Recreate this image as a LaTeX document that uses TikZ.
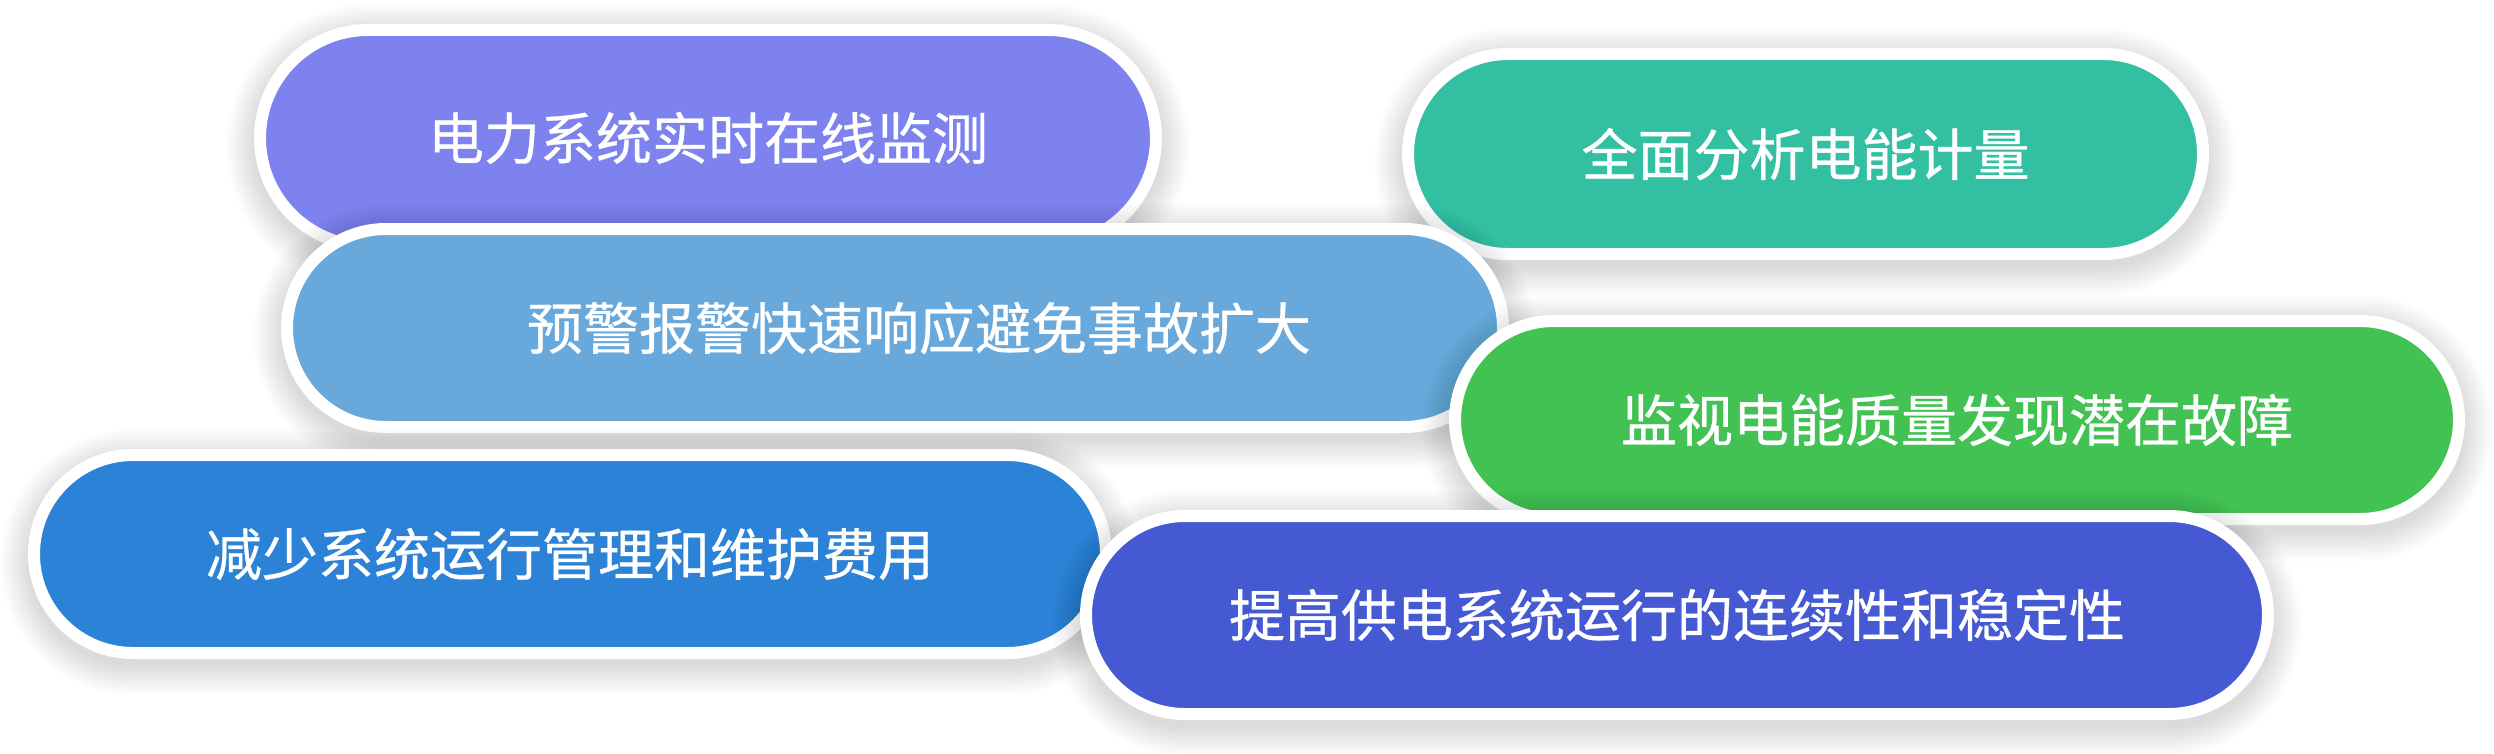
\documentclass[tikz,border=0pt]{standalone}
\usepackage{fontspec}
\newfontfamily\cjkfont[FakeBold=0.6]{Noto Sans CJK SC}
\usetikzlibrary{shapes.misc}
\definecolor{cA}{HTML}{7E82EE}
\definecolor{cB}{HTML}{33BFA1}
\definecolor{cC}{HTML}{68A8DB}
\definecolor{cD}{HTML}{42C252}
\definecolor{cE}{HTML}{2B82D6}
\definecolor{cF}{HTML}{4559D2}
\tikzset{
  pill/.style={rounded rectangle, draw=white, line width=12pt, text=white,
    font=\cjkfont\fontsize{56pt}{60pt}\selectfont, inner sep=0pt},
  pshadow/.style={rounded rectangle, fill=black, fill opacity=0.01, draw=none, inner sep=0pt}
}
\newcommand\mkpill[7]{%
  \foreach \k in {0,...,11}{%
    \node[pshadow, minimum width={#4+24+5*\k}, minimum height={#5+24+5*\k}] (#1s\k) at (#2,{-(#3)-8}) {};
  }
  \node[pill, fill=#6, minimum width={#4+12}, minimum height={#5+12}] (#1) at (#2,-#3) {#7};
}
\begin{document}
\begin{tikzpicture}[x=1pt,y=1pt]
\fill[white] (0,0) rectangle (2494,-754);
\useasboundingbox (0,0) rectangle (2494,-754);
\mkpill{pa}{708}{138}{884}{204}{cA}{电力系统实时在线监测}
\mkpill{pb}{1805.5}{154}{783}{188}{cB}{全面分析电能计量}
\mkpill{pc}{895}{328}{1204}{186}{cC}{\hspace*{48pt}预警报警快速响应避免事故扩大}
\mkpill{pd}{1957}{420}{992}{186}{cD}{监视电能质量发现潜在故障}
\mkpill{pe}{570}{554}{1060}{186}{cE}{减少系统运行管理和维护费用}
\mkpill{pf}{1677}{615}{1170}{186}{cF}{提高供电系统运行的连续性和稳定性}
\end{tikzpicture}
\end{document}
